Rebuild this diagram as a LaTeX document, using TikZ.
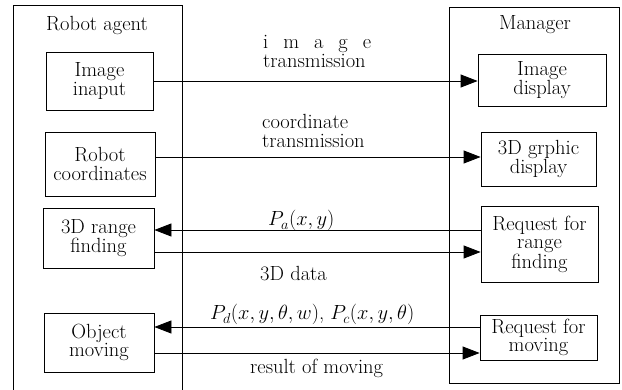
\RequirePackage{fix-cm}
\documentclass[tikz,border=0pt]{standalone}
\usetikzlibrary{arrows.meta}
\begin{document}
\begin{tikzpicture}[x=1pt,y=-1pt,
  every node/.style={font=\fontsize{20.5}{18.5}\selectfont},
  box/.style={draw,line width=0.8pt,inner sep=0pt,align=center},
  lab/.style={inner sep=0pt,anchor=base west},
  lab2/.style={inner sep=0pt,align=left,font=\fontsize{20.5}{19.5}\selectfont},
  conn/.style={line width=0.8pt},
  arr/.style={conn,-{Triangle[length=17pt,width=13pt]}},
  frame/.style={line width=0.8pt}]
\useasboundingbox (0,0) rectangle (622,390);
% containers
\draw[frame] (13,391) -- (13,5) -- (182,5) -- (182,391);
\draw[frame] (449,7) rectangle (619,383);
\node (ra) at (97,25) {Robot agent};
\node (mg) at (535,25) {Manager};
% robot agent boxes
\node[box,minimum width=107pt,minimum height=58pt] (imgin) at (99.5,81) {Image\\inaput};
\node[box,minimum width=110pt,minimum height=64pt] (rc) at (100,164) {Robot\\coordinates};
\node[box,minimum width=111pt,minimum height=60pt] (rf) at (98.5,238) {3D range\\finding};
\node[box,minimum width=110pt,minimum height=59pt] (om) at (99,342.5) {Object\\moving};
% manager boxes
\node[box,minimum width=128pt,minimum height=52pt] (imgdisp) at (542,80) {Image\\display};
\node[box,minimum width=115pt,minimum height=54pt] (gd) at (538.5,159) {3D grphic\\display};
\node[box,minimum width=117pt,minimum height=76pt] (rrf) at (539.5,244) {Request for\\range\\finding};
\node[box,minimum width=117pt,minimum height=45pt] (rm) at (538.5,337.5) {Request for\\moving};
% connectors
\draw[arr] (imgin.east) -- (imgin.east -| imgdisp.west);
\coordinate (c1) at ([yshift=7pt]rc.east);
\draw[arr] (c1) -- (c1 -| gd.west);
\coordinate (c2) at ([yshift=8pt]rf.east);
\draw[arr] (c2 -| rrf.west) -- (c2);
\coordinate (c3) at ([yshift=-14pt]rf.east);
\draw[arr] (c3) -- (c3 -| rrf.west);
\coordinate (c4) at ([yshift=15.5pt]om.east);
\draw[arr] (c4 -| rm.west) -- (c4);
\coordinate (c5) at ([yshift=-10.5pt]om.east);
\draw[arr] (c5) -- (c5 -| rm.west);
% labels
\node[lab2,anchor=base west] (l1) at (263,68) {\makebox[108pt][s]{i m a g e}\\transmission};
\node[lab2,anchor=base west] (l2) at (262,148) {coordinate\\transmission};
\node[lab] (l3) at (268,226) {$P_a(x, y)$};
\node[lab] (l4) at (260,281) {3D data};
\node[lab] (l5) at (210,320) {$P_d(x, y, \theta, w)$, $P_c(x, y, \theta)$};
\node[lab] (l6) at (250,374) {result of moving};
\end{tikzpicture}
\end{document}
